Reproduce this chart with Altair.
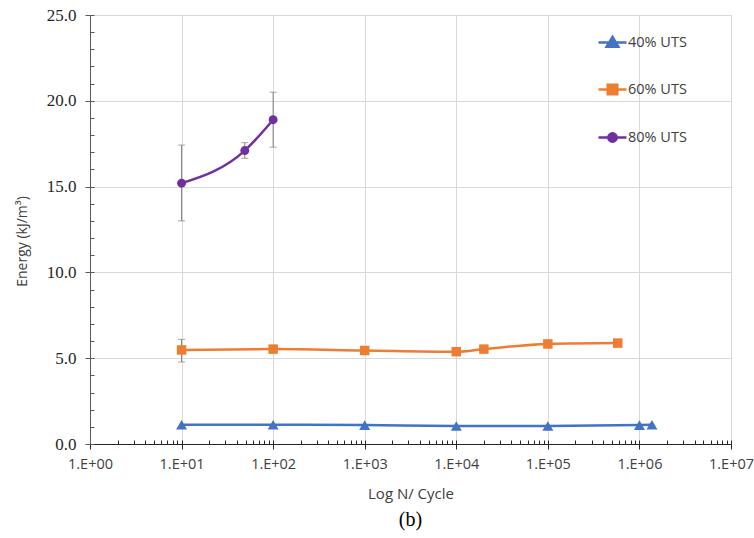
import altair as alt
import pandas as pd

# ---------------- data ----------------
series = ["40% UTS", "60% UTS", "80% UTS"]
colors = ["#4472C4", "#ED7D31", "#7030A0"]
marker_shapes = ["triangle-up", "square", "circle"]
marker_sizes = [121, 90, 80]

n_40 = [10, 100, 1000, 10000, 100000, 1000000, 1370000]
e_40 = [1.12, 1.12, 1.10, 1.05, 1.05, 1.10, 1.12]
n_60 = [10, 100, 1000, 10000, 20000, 100000, 580000]
e_60 = [5.48, 5.53, 5.45, 5.38, 5.53, 5.83, 5.88]
n_80 = [10, 49, 100]
e_80 = [15.2, 17.1, 18.9]

err_series = ["60% UTS", "80% UTS", "80% UTS", "80% UTS"]
err_n = [10, 10, 49, 100]
err_lo = [4.78, 13.0, 16.65, 17.3]
err_hi = [6.1, 17.42, 17.56, 20.5]

x_major = [1, 10, 100, 1000, 10000, 100000, 1000000, 10000000]
x_minor = [m * d for d in x_major[:-1] for m in range(1, 10)] + [x_major[-1]]
y_major = [0, 5, 10, 15, 20, 25]
y_minor = list(range(0, 26))

legend_paths = [
    "M-1,0H1M-0.42,0.3L0,-0.4L0.42,0.3Z",
    "M-1,0H1M-0.34,-0.34H0.34V0.34H-0.34Z",
    "M-1,0H1M-0.3,0A0.3,0.3,0,1,0,0.3,0A0.3,0.3,0,1,0,-0.3,0Z",
]

rows = []
for s, ns, es in zip(series, [n_40, n_60, n_80], [e_40, e_60, e_80]):
    for n, e in zip(ns, es):
        rows.append({"series": s, "N": n, "E": e})
df = pd.DataFrame(rows)

err_df = pd.DataFrame({"series": err_series, "N": err_n, "lo": err_lo, "hi": err_hi})
cap_df = pd.DataFrame({"N": err_n + err_n, "y": err_lo + err_hi})

# ---------------- scales / axes ----------------
W, H = 641, 429
xs = alt.Scale(type="log", domain=[1, 1e7], nice=False)
ys = alt.Scale(domain=[0, 25], nice=False, zero=True)

AX = "#404040"
SANS = "Open Sans"

main_x = alt.Axis(
    orient="bottom", values=x_major,
    labelExpr="'1.E+' + format(round(log(datum.value)/LN10), '02d')",
    grid=True, gridColor="#d9d9d9", gridWidth=1,
    domainColor="#262626", tickColor="#262626", tickSize=5,
    labelFont=SANS, labelFontSize=14.5, labelColor=AX, labelPadding=8,
    labelFlush=False,
    title="Log N/ Cycle", titleFont=SANS, titleFontSize=15,
    titleFontWeight="normal", titleColor=AX, titlePadding=16,
)
main_y = alt.Axis(
    orient="left", values=y_major, format=".1f",
    grid=True, gridColor="#d9d9d9", gridWidth=1,
    domainColor="#595959", tickColor="#595959", tickSize=5,
    labelFont="Liberation Serif", labelFontSize=17, labelColor="#262626",
    labelPadding=9,
    title="Energy (kJ/m³)", titleFont=SANS, titleFontSize=14,
    titleFontWeight="normal", titleColor=AX, titlePadding=17, titleY=226,
)
minor_x = alt.Axis(orient="top", offset=-H, values=x_minor, labels=False,
                   grid=False, domain=False, tickSize=4, tickColor="#262626",
                   title=None)
minor_y = alt.Axis(orient="right", offset=-W, values=y_minor, labels=False,
                   grid=False, domain=False, tickSize=4, tickColor="#595959",
                   title=None)

base = alt.Chart(df)

err_rules = alt.Chart(err_df).mark_rule(color="#7f7f7f", strokeWidth=1).encode(
    x=alt.X("N:Q", scale=xs, axis=main_x),
    y=alt.Y("lo:Q", scale=ys, axis=main_y),
    y2="hi:Q",
)
err_caps = alt.Chart(cap_df).mark_tick(color="#7f7f7f", orient="horizontal",
                                        size=7, thickness=1).encode(
    x=alt.X("N:Q", scale=xs, axis=minor_x),
    y=alt.Y("y:Q", scale=ys, axis=minor_y),
)

data_layers = []
for s, col, shp, sz in zip(series, colors, marker_shapes, marker_sizes):
    sub = base.transform_filter(alt.datum.series == s)
    data_layers.append(
        sub.mark_line(interpolate="monotone", strokeWidth=2.5, color=col).encode(
            x=alt.X("N:Q", scale=xs, axis=None),
            y=alt.Y("E:Q", scale=ys, axis=None),
        )
    )
    data_layers.append(
        sub.mark_point(filled=True, shape=shp, size=sz, opacity=1, color=col).encode(
            x=alt.X("N:Q", scale=xs, axis=None),
            y=alt.Y("E:Q", scale=ys, axis=None),
        )
    )

leg = alt.Legend(
    orient="none", legendX=507, legendY=12, title=None, direction="vertical",
    symbolSize=784, symbolStrokeWidth=2.5, rowPadding=22, padding=0,
    symbolOpacity=1,
    labelFont=SANS, labelFontSize=14.5, labelColor=AX, labelOffset=0,
)
legend_layer = base.mark_point(filled=True, strokeWidth=2.5, opacity=0).encode(
    x=alt.X("N:Q", scale=xs, axis=None),
    y=alt.Y("E:Q", scale=ys, axis=None),
    fill=alt.Fill("series:N", scale=alt.Scale(domain=series, range=colors), legend=leg),
    stroke=alt.Stroke("series:N", scale=alt.Scale(domain=series, range=colors), legend=leg),
    shape=alt.Shape("series:N", scale=alt.Scale(domain=series, range=legend_paths), legend=leg),
)

chart = (
    alt.layer(err_rules, err_caps, *data_layers, legend_layer)
    .resolve_axis(x="independent", y="independent")
    .properties(
        width=W, height=H,
        padding={"left": 90, "top": 15, "right": 23, "bottom": 94},
        autosize=alt.AutoSizeParams(type="none"),
        title=alt.Title("(b)", orient="bottom", font="Liberation Serif",
                        fontSize=20, fontWeight="normal", color="#000000",
                        offset=8),
        background="white",
    )
    .configure_view(stroke=None)
)

chart.save("out.html", embed_options={"renderer": "svg", "actions": False})
